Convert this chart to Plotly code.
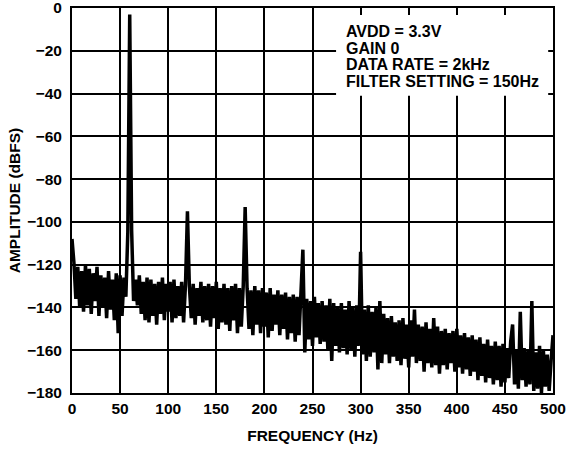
### Import packages ###
import plotly.graph_objects as go

# ~~~~~~~~~~~~~~~~~~~~~~~~~~~~~~~~~~~~~~~~~~~~~~~~~~~~~~~~~~~~~~~~~~~~~~~~~ #
### Data (2 Hz bins) ###
# ~~~~~~~~~~~~~~~~~~~~~~~~~~~~~~~~~~~~~~~~~~~~~~~~~~~~~~~~~~~~~~~~~~~~~~~~~ #

freq_step = 2
amplitude = [
    -108, -119, -136, -121, -140, -123, -142, -120, -139, -122,   # 0-18 Hz
    -143, -124, -137, -121, -144, -125, -140, -126, -145, -123,   # 20-38
    -141, -127, -146, -124, -152, -125, -144, -126, -135, -105,   # 40-58
    -3, -104, -137, -127, -139, -125, -143, -128, -146, -126,     # 60-78
    -147, -127, -144, -129, -148, -128, -143, -126, -146, -129,   # 80-98
    -142, -128, -147, -127, -145, -130, -144, -128, -147, -129,   # 100-118
    -95, -130, -145, -129, -148, -131, -144, -128, -147, -130,    # 120-138
    -146, -129, -149, -130, -145, -128, -150, -131, -147, -129,   # 140-158
    -148, -131, -151, -130, -146, -129, -152, -131, -149, -130,   # 160-178
    -93, -131, -150, -132, -153, -130, -148, -132, -152, -131,    # 180-198
    -149, -133, -154, -131, -151, -134, -148, -132, -153, -134,   # 200-218
    -150, -133, -155, -135, -152, -134, -156, -135, -153, -134,   # 220-238
    -113, -161, -136, -155, -137, -158, -135, -154, -138, -157,   # 240-258
    -137, -156, -139, -160, -136, -165, -138, -158, -140, -161,   # 260-278
    -138, -159, -141, -162, -137, -160, -140, -163, -139, -158,   # 280-298
    -114, -162, -141, -165, -139, -163, -142, -161, -140, -169,   # 300-318
    -137, -166, -143, -162, -145, -166, -144, -163, -147, -165,   # 320-338
    -146, -167, -145, -164, -148, -168, -146, -163, -141, -166,   # 340-358
    -148, -165, -149, -170, -147, -166, -150, -168, -145, -167,   # 360-378
    -149, -171, -151, -167, -150, -169, -152, -166, -151, -170,   # 380-398
    -150, -168, -153, -171, -152, -169, -154, -172, -153, -170,   # 400-418
    -155, -174, -154, -172, -157, -175, -155, -173, -158, -176,   # 420-438
    -156, -174, -158, -177, -157, -175, -159, -173, -156, -148,   # 440-458
    -176, -160, -178, -142, -174, -159, -177, -160, -176, -137,   # 460-478
    -179, -161, -178, -158, -180, -160, -177, -162, -179, -165,   # 480-498
    -153,                                                         # 500
]
frequency = [i * freq_step for i in range(len(amplitude))]

x_ticks = [0, 50, 100, 150, 200, 250, 300, 350, 400, 450, 500]
y_ticks = [0, -20, -40, -60, -80, -100, -120, -140, -160, -180]
y_labels = [str(v).replace('-', '\u2212') for v in y_ticks]

note_lines = ["AVDD = 3.3V", "GAIN 0", "DATA RATE = 2kHz", "FILTER SETTING = 150Hz"]

# ~~~~~~~~~~~~~~~~~~~~~~~~~~~~~~~~~~~~~~~~~~~~~~~~~~~~~~~~~~~~~~~~~~~~~~~~~ #
### Plot ###
# ~~~~~~~~~~~~~~~~~~~~~~~~~~~~~~~~~~~~~~~~~~~~~~~~~~~~~~~~~~~~~~~~~~~~~~~~~ #

bold = dict(family="Liberation Sans, Arial, sans-serif", size=15.5, color="black", weight="bold")
note_font = dict(bold, size=16)

fig = go.Figure()
fig.add_trace(go.Scatter(x=frequency,
                         y=amplitude,
                         mode='lines',
                         line=dict(color='black', width=3.5),
                         showlegend=False))

# white box behind the test conditions
fig.add_shape(type='rect', xref='x', yref='y',
              x0=274.5, x1=495, y0=-41, y1=-3.3,
              fillcolor='white', line=dict(width=0), layer='above')
# one annotation per line to keep the tight line spacing
for i, line in enumerate(note_lines):
    fig.add_annotation(xref='paper', yref='paper', x=0.566, y=0.939 - i * 0.0433,
                       xanchor='left', yanchor='middle', align='left',
                       showarrow=False, text=line, font=note_font)

fig.update_xaxes(range=[0, 500], tickvals=x_ticks, ticks='',
                 showgrid=True, gridcolor='black', gridwidth=1.5,
                 showline=True, linecolor='black', linewidth=2, mirror=True,
                 zeroline=False, tickfont=bold, automargin=False,
                 ticklabeloverflow='allow',
                 title=dict(text='FREQUENCY (Hz)', font=bold, standoff=15))
fig.update_yaxes(range=[-180, 0], tickvals=y_ticks, ticktext=y_labels, ticks='',
                 showgrid=True, gridcolor='black', gridwidth=1.5,
                 showline=True, linecolor='black', linewidth=2, mirror=True,
                 zeroline=False, tickfont=bold, automargin=False,
                 ticklabelstandoff=5, ticklabeloverflow='allow',
                 title=dict(text='AMPLITUDE (dBFS)', font=bold, standoff=3))
fig.update_layout(width=568, height=450,
                  margin=dict(l=72, r=15, t=8, b=57),
                  plot_bgcolor='white', paper_bgcolor='white')

# drop the page's default body margin so the figure sits at the corner
fig.write_html("out.html", config={'displayModeBar': False},
               post_script="document.body.style.margin='0';")
